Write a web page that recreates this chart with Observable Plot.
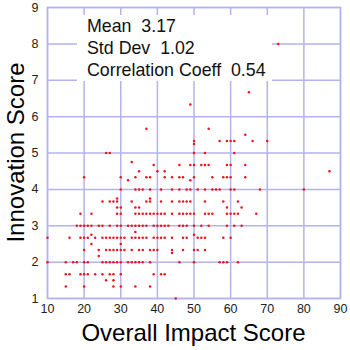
<!DOCTYPE html>
<html><head><meta charset="utf-8">
<script src="https://cdn.jsdelivr.net/npm/d3@7"></script>
<script src="https://cdn.jsdelivr.net/npm/@observablehq/plot@0.6"></script>
<style>body{margin:0;background:#fff} svg{display:block}</style>
</head><body><div id="chart"></div>
<script>
// Innovation score levels and the overall impact scores of the points on each level
const innovationLevels = [8, 6.67, 6.33, 5.67, 5.5, 5.33, 5.25, 5, 4.75, 4.67, 4.5, 4.33, 4.25, 4, 3.75, 3.67, 3.5, 3.33, 3, 2.83, 2.75, 2.67, 2.5, 2.33, 2.25, 2.17, 2, 1.67, 1.5, 1.33, 1];
const impactAtLevel = [
  [73],
  [65],
  [49],
  [37, 54],
  [64],
  [50, 57, 59, 60, 61, 66, 70],
  [50],
  [26, 27, 50, 53, 61],
  [33],
  [39, 46, 49, 50, 52, 53, 54, 59, 60, 64],
  [35, 40, 42, 87],
  [20, 30, 34, 37, 38, 42, 44, 46, 47, 50, 55, 58, 59, 60, 64],
  [32, 49],
  [30, 34, 35, 36, 38, 41, 44, 46, 48, 49, 51, 53, 55, 56, 57, 60, 61, 68, 80],
  [29, 38],
  [25, 27, 28, 29, 33, 37, 38, 41, 44, 46, 47, 48, 49, 53, 58, 62],
  [29, 30, 34, 35, 59, 63],
  [19, 22, 29, 30, 34, 35, 36, 37, 38, 39, 40, 41, 42, 44, 46, 47, 48, 49, 50, 53, 54, 55, 59, 60, 61, 62, 67],
  [18, 19, 20, 21, 22, 24, 25, 27, 29, 30, 32, 33, 34, 35, 36, 37, 39, 40, 41, 42, 43, 46, 47, 48, 50, 52, 54, 59, 61, 63],
  [34],
  [22, 50],
  [10, 16, 19, 20, 21, 23, 25, 26, 27, 28, 29, 30, 31, 33, 34, 35, 36, 37, 39, 40, 41, 42, 44, 47, 48, 51, 52, 53, 58, 60],
  [22, 30],
  [20, 24, 26, 27, 28, 29, 30, 31, 33, 35, 36, 38, 39, 40, 44, 47, 50, 51, 53],
  [44],
  [24],
  [10, 15, 17, 18, 20, 21, 25, 26, 27, 28, 29, 30, 32, 33, 34, 35, 36, 38, 46, 50, 57, 58, 59, 62],
  [15, 16, 19, 20, 21, 23, 25, 27, 28, 30, 39, 41, 42],
  [26, 28],
  [15, 20, 28, 30, 34, 38],
  [45]
];
const xTicks = [10, 20, 30, 40, 50, 60, 70, 80, 90];
const yTicks = [1, 2, 3, 4, 5, 6, 7, 8, 9];
const statLabels = ["Mean", "Std Dev", "Correlation Coeff"];
const statValues = ["3.17", "1.02", "0.54"];
const xTitle = "Overall Impact Score";
const yTitle = "Innovation Score";

const points = innovationLevels.flatMap((y, i) => impactAtLevel[i].map(x => ({x, y})));

const W = 350, H = 350, mL = 47, mR = 10, mT = 7, mB = 52;
const gridColor = "#b3b3ee";
const font = "'Liberation Sans', Arial, Helvetica, sans-serif";

const plot = Plot.plot({
  width: W, height: H,
  marginLeft: mL, marginRight: mR, marginTop: mT, marginBottom: mB,
  style: {fontFamily: font, fontSize: "12.5px", color: "#222", background: "#fff", overflow: "visible"},
  x: {domain: [10, 90], ticks: xTicks, label: null},
  y: {domain: [1, 9], ticks: yTicks, label: null},
  marks: [
    Plot.gridX(xTicks, {stroke: gridColor, strokeOpacity: 1, strokeWidth: 1.5}),
    Plot.gridY(yTicks, {stroke: gridColor, strokeOpacity: 1, strokeWidth: 1.5}),
    Plot.frame({stroke: gridColor, strokeWidth: 1.5}),
    Plot.axisX(xTicks, {tickSize: 0, tickPadding: 6, label: null}),
    Plot.axisY(yTicks, {tickSize: 0, tickPadding: 9, label: null}),
    Plot.dot(points, {x: "x", y: "y", r: 1.25, fill: "#f0101e", stroke: "none"})
  ]
});
document.getElementById("chart").append(plot);

const svg = d3.select(plot);
// statistics annotation with white background
const textX = mL + 40;
svg.append("rect")
  .attr("x", textX - 10).attr("y", mT + 8)
  .attr("width", 195).attr("height", 66)
  .attr("fill", "#fff");
statLabels.forEach((lab, i) => {
  svg.append("text")
    .attr("x", textX).attr("y", mT + 25.3 + i * 22)
    .style("font-family", font).style("font-size", "17.8px").style("text-anchor", "start")
    .style("fill", "#111").style("white-space", "pre")
    .text(lab + "  " + statValues[i]);
});

// axis titles
svg.append("text")
  .attr("x", (mL + W - mR) / 2).attr("y", 341)
  .style("text-anchor", "middle").style("font-family", font).style("font-size", "24px").style("fill", "#000")
  .text(xTitle);
svg.append("text")
  .attr("transform", `translate(23.5,${(mT + H - mB) / 2}) rotate(-90)`)
  .style("text-anchor", "middle").style("font-family", font).style("font-size", "24px").style("fill", "#000")
  .text(yTitle);
</script>
</body></html>
